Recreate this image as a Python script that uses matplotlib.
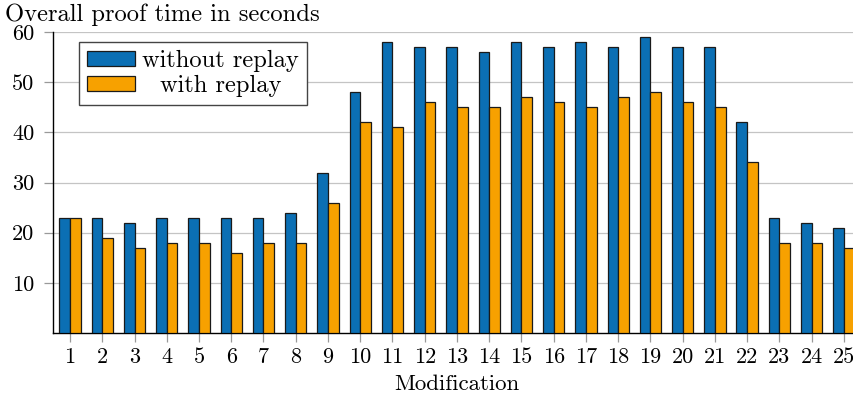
import matplotlib
matplotlib.use("Agg")
import matplotlib.pyplot as plt
from matplotlib.transforms import Affine2D
import numpy as np

plt.rcParams["font.family"] = ["cmr10", "DejaVu Serif"]
plt.rcParams["axes.formatter.use_mathtext"] = True
plt.rcParams["font.size"] = 17

modifications = [str(i) for i in range(1, 26)]
without_replay = [23, 23, 22, 23, 23, 23, 23, 24, 32, 48, 58, 57, 57, 56, 58,
                  57, 58, 57, 59, 57, 57, 42, 23, 22, 21]
with_replay = [23, 19, 17, 18, 18, 16, 18, 18, 26, 42, 41, 46, 45, 45, 47,
               46, 45, 47, 48, 46, 45, 34, 18, 18, 17]
y_ticks = [10, 20, 30, 40, 50, 60]

blue = "#0b6fb4"
orange = "#f7a100"

fig = plt.figure(figsize=(8.54, 3.96), dpi=100)
ax = fig.add_axes([0.062, 0.159, 0.945, 0.760])

x = np.arange(1, len(modifications) + 1)
w = 0.33
ax.bar(x - w / 2, without_replay, w, color=blue, edgecolor="#1a1a1a",
       linewidth=0.9, label="without replay", zorder=3)
ax.bar(x + w / 2, with_replay, w, color=orange, edgecolor="#1a1a1a",
       linewidth=0.9, label="with replay", zorder=3)

ax.set_xlim(0.47, 25.5)
ax.set_ylim(0, 60)
ax.set_xticks(x)
ax.set_xticklabels(modifications, fontsize=16)
ax.set_yticks(y_ticks)
ax.set_yticklabels([str(v) for v in y_ticks], fontsize=16)
ax.yaxis.grid(True, color="#c4c4c4", linewidth=0.9, zorder=0)
ax.tick_params(axis="both", color="#999999", length=6.5, width=0.9)
ax.tick_params(axis="x", pad=4)
ax.tick_params(axis="y", pad=7)

for side in ("top", "right"):
    ax.spines[side].set_visible(False)
for side in ("left", "bottom"):
    ax.spines[side].set_linewidth(1.0)
    ax.spines[side].set_color("black")

ax.set_xlabel("Modification", fontsize=16.5, labelpad=5)
fig.text(0.006, 0.947, "Overall proof time in seconds", ha="left",
         va="baseline", fontsize=17.7)

leg = ax.legend(loc="upper left", bbox_to_anchor=(0.032, 0.967),
                borderaxespad=0, fancybox=False, edgecolor="#444444",
                framealpha=1, fontsize=17.6, handlelength=1.95,
                handleheight=0.55, borderpad=0.33, labelspacing=0.12,
                handletextpad=0.3)
leg.get_frame().set_linewidth(1.0)

# center the shorter legend entry under the longer one
renderer = fig.canvas.get_renderer()
texts = leg.get_texts()
widths = [t.get_window_extent(renderer).width for t in texts]
widest = max(widths)
for t, wd in zip(texts, widths):
    shift = (widest - wd) / 2
    t.set_transform(t.get_transform() + Affine2D().translate(shift, 0))

fig.savefig("out.png", dpi=100)
